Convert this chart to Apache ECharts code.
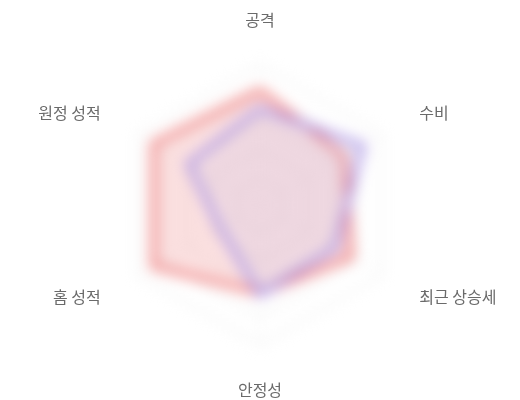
<!DOCTYPE html>
<html>
<head>
<meta charset="utf-8">
<script src="https://cdn.jsdelivr.net/npm/echarts@6/dist/echarts.min.js"></script>
<style>
  html, body { margin: 0; padding: 0; background: #ffffff; }
  #wrap { position: relative; width: 520px; height: 400px; }
  #shapes, #labels { position: absolute; left: 0; top: 0; width: 520px; height: 400px; }
  #shapes { filter: blur(7px); }
</style>
</head>
<body>
<div id="wrap">
  <div id="shapes"></div>
  <div id="labels"></div>
</div>
<script>
// Indicators in ECharts' counter-clockwise order starting at the top
const indicatorNames = ['공격', '원정 성적', '홈 성적', '안정성', '최근 상승세', '수비'];
const indicatorMax = 100;
const seriesARed = [82, 88, 88, 63, 75, 70];
const seriesBBlue = [69, 59, 33, 64, 62, 85];

const indicators = indicatorNames.map(n => ({ name: n, max: indicatorMax }));
const verticalNames = [indicatorNames[0], indicatorNames[3]];

function radarCfg(showNames) {
  return {
    center: ['50%', '51.25%'],
    radius: '70%',
    indicator: indicators,
    shape: 'polygon',
    splitNumber: 5,
    axisNameGap: 44,
    axisName: {
      show: showNames,
      color: '#6a6a6a',
      fontSize: 16,
      fontFamily: 'Noto Sans CJK KR',
      formatter: function (name) {
        return verticalNames.indexOf(name) >= 0 ? '{v|' + name + '}' : '{s|' + name + '}';
      },
      rich: {
        v: { fontSize: 16, color: '#6a6a6a', fontFamily: 'Noto Sans CJK KR', lineHeight: 2 },
        s: { fontSize: 16, color: '#6a6a6a', fontFamily: 'Noto Sans CJK KR' }
      }
    },
    axisLine: { show: !showNames, lineStyle: { color: '#f0f0f0' } },
    splitLine: { show: !showNames, lineStyle: { color: '#ececec', width: 2 } },
    splitArea: { show: false }
  };
}

const shapes = echarts.init(document.getElementById('shapes'), null, { renderer: 'canvas' });
shapes.setOption({
  animation: false,
  radar: radarCfg(false),
  series: [{
    type: 'radar',
    symbol: 'none',
    data: [
      {
        value: seriesARed,
        lineStyle: { color: '#f08686', width: 6 },
        areaStyle: { color: 'rgba(238,110,110,0.3)' }
      },
      {
        value: seriesBBlue,
        lineStyle: { color: '#b39be6', width: 6 },
        areaStyle: { color: 'rgba(120,140,230,0.14)' }
      }
    ]
  }]
});

const labels = echarts.init(document.getElementById('labels'), null, { renderer: 'canvas' });
labels.setOption({
  animation: false,
  radar: radarCfg(true),
  series: []
});
</script>
</body>
</html>
